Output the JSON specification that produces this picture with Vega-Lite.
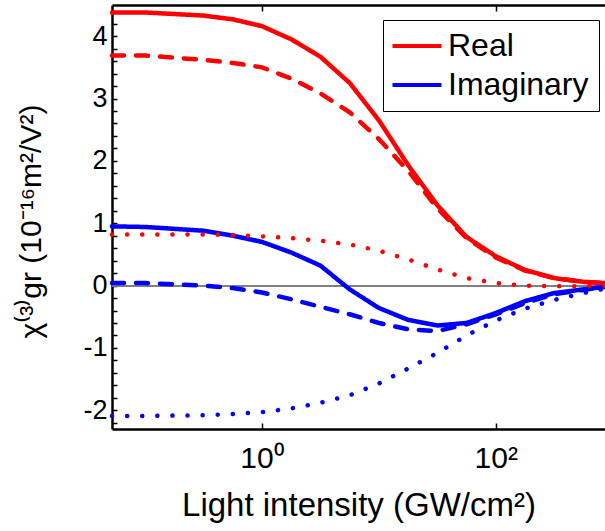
{
  "$schema": "https://vega.github.io/schema/vega-lite/v6.json",
  "width": 493,
  "height": 424,
  "autosize": {"type": "none"},
  "padding": {"left": 112, "top": 5, "right": 0, "bottom": 102},
  "config": {
    "font": "Liberation Sans",
    "view": {"stroke": null},
    "axis": {
      "grid": false,
      "domainColor": "black",
      "domainWidth": 2.5,
      "tickColor": "black",
      "tickWidth": 1.5,
      "labelColor": "black",
      "titleColor": "black",
      "titleFontWeight": "normal",
      "labelOverlap": false,
      "labelFlush": false,
      "labelBound": false
    }
  },
  "data": {
    "values": [
      {"I": 0.052, "v": 4.38, "part": "Real", "style": "solid"},
      {"I": 0.1, "v": 4.38, "part": "Real", "style": "solid"},
      {"I": 0.316, "v": 4.33, "part": "Real", "style": "solid"},
      {"I": 0.562, "v": 4.27, "part": "Real", "style": "solid"},
      {"I": 1, "v": 4.16, "part": "Real", "style": "solid"},
      {"I": 1.78, "v": 3.95, "part": "Real", "style": "solid"},
      {"I": 3.16, "v": 3.67, "part": "Real", "style": "solid"},
      {"I": 5.62, "v": 3.25, "part": "Real", "style": "solid"},
      {"I": 10, "v": 2.65, "part": "Real", "style": "solid"},
      {"I": 17.8, "v": 1.93, "part": "Real", "style": "solid"},
      {"I": 31.6, "v": 1.29, "part": "Real", "style": "solid"},
      {"I": 56.2, "v": 0.78, "part": "Real", "style": "solid"},
      {"I": 100, "v": 0.47, "part": "Real", "style": "solid"},
      {"I": 178, "v": 0.25, "part": "Real", "style": "solid"},
      {"I": 316, "v": 0.12, "part": "Real", "style": "solid"},
      {"I": 562, "v": 0.06, "part": "Real", "style": "solid"},
      {"I": 860, "v": 0.04, "part": "Real", "style": "solid"},

      {"I": 0.052, "v": 3.69, "part": "Real", "style": "dashed"},
      {"I": 0.1, "v": 3.69, "part": "Real", "style": "dashed"},
      {"I": 0.316, "v": 3.62, "part": "Real", "style": "dashed"},
      {"I": 0.562, "v": 3.57, "part": "Real", "style": "dashed"},
      {"I": 1, "v": 3.5, "part": "Real", "style": "dashed"},
      {"I": 1.78, "v": 3.32, "part": "Real", "style": "dashed"},
      {"I": 3.16, "v": 3.08, "part": "Real", "style": "dashed"},
      {"I": 5.62, "v": 2.78, "part": "Real", "style": "dashed"},
      {"I": 10, "v": 2.35, "part": "Real", "style": "dashed"},
      {"I": 17.8, "v": 1.84, "part": "Real", "style": "dashed"},
      {"I": 31.6, "v": 1.24, "part": "Real", "style": "dashed"},
      {"I": 56.2, "v": 0.76, "part": "Real", "style": "dashed"},
      {"I": 100, "v": 0.45, "part": "Real", "style": "dashed"},
      {"I": 178, "v": 0.24, "part": "Real", "style": "dashed"},
      {"I": 316, "v": 0.12, "part": "Real", "style": "dashed"},
      {"I": 562, "v": 0.06, "part": "Real", "style": "dashed"},
      {"I": 860, "v": 0.04, "part": "Real", "style": "dashed"},

      {"I": 0.052, "v": 0.82, "part": "Real", "style": "dotted"},
      {"I": 0.1, "v": 0.82, "part": "Real", "style": "dotted"},
      {"I": 0.316, "v": 0.82, "part": "Real", "style": "dotted"},
      {"I": 0.562, "v": 0.81, "part": "Real", "style": "dotted"},
      {"I": 1, "v": 0.79, "part": "Real", "style": "dotted"},
      {"I": 1.78, "v": 0.76, "part": "Real", "style": "dotted"},
      {"I": 3.16, "v": 0.72, "part": "Real", "style": "dotted"},
      {"I": 5.62, "v": 0.66, "part": "Real", "style": "dotted"},
      {"I": 10, "v": 0.56, "part": "Real", "style": "dotted"},
      {"I": 17.8, "v": 0.42, "part": "Real", "style": "dotted"},
      {"I": 31.6, "v": 0.26, "part": "Real", "style": "dotted"},
      {"I": 56.2, "v": 0.12, "part": "Real", "style": "dotted"},
      {"I": 100, "v": 0.04, "part": "Real", "style": "dotted"},
      {"I": 178, "v": 0.0, "part": "Real", "style": "dotted"},
      {"I": 316, "v": -0.01, "part": "Real", "style": "dotted"},
      {"I": 562, "v": -0.01, "part": "Real", "style": "dotted"},
      {"I": 860, "v": 0.0, "part": "Real", "style": "dotted"},

      {"I": 0.052, "v": 0.95, "part": "Imaginary", "style": "solid"},
      {"I": 0.1, "v": 0.94, "part": "Imaginary", "style": "solid"},
      {"I": 0.316, "v": 0.88, "part": "Imaginary", "style": "solid"},
      {"I": 0.562, "v": 0.8, "part": "Imaginary", "style": "solid"},
      {"I": 1, "v": 0.7, "part": "Imaginary", "style": "solid"},
      {"I": 1.78, "v": 0.53, "part": "Imaginary", "style": "solid"},
      {"I": 3.16, "v": 0.32, "part": "Imaginary", "style": "solid"},
      {"I": 5.62, "v": -0.06, "part": "Imaginary", "style": "solid"},
      {"I": 10, "v": -0.36, "part": "Imaginary", "style": "solid"},
      {"I": 17.8, "v": -0.55, "part": "Imaginary", "style": "solid"},
      {"I": 31.6, "v": -0.64, "part": "Imaginary", "style": "solid"},
      {"I": 56.2, "v": -0.6, "part": "Imaginary", "style": "solid"},
      {"I": 100, "v": -0.44, "part": "Imaginary", "style": "solid"},
      {"I": 178, "v": -0.25, "part": "Imaginary", "style": "solid"},
      {"I": 316, "v": -0.12, "part": "Imaginary", "style": "solid"},
      {"I": 562, "v": -0.06, "part": "Imaginary", "style": "solid"},
      {"I": 860, "v": -0.02, "part": "Imaginary", "style": "solid"},

      {"I": 0.052, "v": 0.04, "part": "Imaginary", "style": "dashed"},
      {"I": 0.1, "v": 0.04, "part": "Imaginary", "style": "dashed"},
      {"I": 0.316, "v": 0.0, "part": "Imaginary", "style": "dashed"},
      {"I": 0.562, "v": -0.04, "part": "Imaginary", "style": "dashed"},
      {"I": 1, "v": -0.11, "part": "Imaginary", "style": "dashed"},
      {"I": 1.78, "v": -0.22, "part": "Imaginary", "style": "dashed"},
      {"I": 3.16, "v": -0.34, "part": "Imaginary", "style": "dashed"},
      {"I": 5.62, "v": -0.46, "part": "Imaginary", "style": "dashed"},
      {"I": 10, "v": -0.6, "part": "Imaginary", "style": "dashed"},
      {"I": 17.8, "v": -0.7, "part": "Imaginary", "style": "dashed"},
      {"I": 31.6, "v": -0.73, "part": "Imaginary", "style": "dashed"},
      {"I": 56.2, "v": -0.62, "part": "Imaginary", "style": "dashed"},
      {"I": 100, "v": -0.46, "part": "Imaginary", "style": "dashed"},
      {"I": 178, "v": -0.28, "part": "Imaginary", "style": "dashed"},
      {"I": 316, "v": -0.14, "part": "Imaginary", "style": "dashed"},
      {"I": 562, "v": -0.07, "part": "Imaginary", "style": "dashed"},
      {"I": 860, "v": -0.02, "part": "Imaginary", "style": "dashed"},

      {"I": 0.052, "v": -2.09, "part": "Imaginary", "style": "dotted"},
      {"I": 0.1, "v": -2.09, "part": "Imaginary", "style": "dotted"},
      {"I": 0.316, "v": -2.08, "part": "Imaginary", "style": "dotted"},
      {"I": 0.562, "v": -2.06, "part": "Imaginary", "style": "dotted"},
      {"I": 1, "v": -2.03, "part": "Imaginary", "style": "dotted"},
      {"I": 1.78, "v": -1.97, "part": "Imaginary", "style": "dotted"},
      {"I": 3.16, "v": -1.88, "part": "Imaginary", "style": "dotted"},
      {"I": 5.62, "v": -1.76, "part": "Imaginary", "style": "dotted"},
      {"I": 10, "v": -1.57, "part": "Imaginary", "style": "dotted"},
      {"I": 17.8, "v": -1.33, "part": "Imaginary", "style": "dotted"},
      {"I": 31.6, "v": -1.08, "part": "Imaginary", "style": "dotted"},
      {"I": 56.2, "v": -0.8, "part": "Imaginary", "style": "dotted"},
      {"I": 100, "v": -0.56, "part": "Imaginary", "style": "dotted"},
      {"I": 178, "v": -0.37, "part": "Imaginary", "style": "dotted"},
      {"I": 316, "v": -0.23, "part": "Imaginary", "style": "dotted"},
      {"I": 562, "v": -0.12, "part": "Imaginary", "style": "dotted"},
      {"I": 860, "v": -0.05, "part": "Imaginary", "style": "dotted"}
    ]
  },
  "layer": [
    {
      "mark": {"type": "rule", "color": "#808080", "strokeWidth": 1},
      "encoding": {
        "y": {
          "datum": 0, "type": "quantitative",
          "scale": {"domain": [-2.3, 4.5], "nice": false, "zero": false},
          "axis": null
        }
      }
    },
    {
      "transform": [{"filter": "datum.part === 'Imaginary'"}],
      "mark": {"type": "line", "strokeCap": "round"},
      "encoding": {
        "x": {
          "field": "I", "type": "quantitative",
          "scale": {"type": "log", "domain": [0.052, 860]},
          "axis": {
            "orient": "bottom",
            "values": [1, 100],
            "labelExpr": "datum.value == 1 ? '10⁰' : '10²'",
            "labelFontSize": 30,
            "labelPadding": 20,
            "tickSize": -6,
            "title": "Light intensity (GW/cm²)",
            "titleFontSize": 33,
            "titlePadding": 16
          }
        },
        "y": {
          "field": "v", "type": "quantitative",
          "scale": {"domain": [-2.3, 4.5], "nice": false, "zero": false},
          "axis": {
            "values": [-2.2, -2, -1.8, -1.6, -1.4, -1.2, -1, -0.8, -0.6, -0.4, -0.2, 0, 0.2, 0.4, 0.6, 0.8, 1, 1.2, 1.4, 1.6, 1.8, 2, 2.2, 2.4, 2.6, 2.8, 3, 3.2, 3.4, 3.6, 3.8, 4, 4.2, 4.4],
            "labelExpr": "abs(datum.value - round(datum.value)) < 0.01 ? '' + round(datum.value) : ''",
            "labelFontSize": 27,
            "labelPadding": 10,
            "tickSize": -5,
            "title": "χ⁽³⁾gr (10⁻¹⁶m²/V²)",
            "titleFontSize": 30,
            "titlePadding": 36,
            "titleY": 216
          }
        },
        "color": {
          "field": "part", "type": "nominal",
          "scale": {"domain": ["Real", "Imaginary"], "range": ["#FF0000", "#0000FF"]},
          "legend": {
            "orient": "none",
            "legendX": 271,
            "legendY": 15,
            "title": null,
            "labelFontSize": 32,
            "labelColor": "black",
            "symbolType": "M-2,0H2",
            "symbolSize": 600,
            "symbolStrokeWidth": 4,
            "symbolOffset": 8,
            "strokeColor": "black",
            "fillColor": "white",
            "padding": 10,
            "rowPadding": 7,
            "labelOffset": 15
          }
        },
        "strokeDash": {
          "field": "style", "type": "nominal",
          "scale": {"domain": ["solid", "dashed", "dotted"], "range": [[1, 0], [12, 12], [0.1, 15]]},
          "legend": null
        },
        "strokeWidth": {
          "field": "style", "type": "nominal",
          "scale": {"domain": ["solid", "dashed", "dotted"], "range": [4.5, 4.5, 5.5]},
          "legend": null
        }
      }
    },
    {
      "transform": [{"filter": "datum.part === 'Real'"}],
      "mark": {"type": "line", "strokeCap": "round"},
      "encoding": {
        "x": {
          "field": "I", "type": "quantitative",
          "scale": {"type": "log", "domain": [0.052, 860]},
          "axis": {
            "orient": "top",
            "values": [1, 100],
            "labels": false,
            "tickSize": -6,
            "title": null
          }
        },
        "y": {
          "field": "v", "type": "quantitative",
          "scale": {"domain": [-2.3, 4.5], "nice": false, "zero": false},
          "axis": null
        },
        "color": {
          "field": "part", "type": "nominal",
          "scale": {"domain": ["Real", "Imaginary"], "range": ["#FF0000", "#0000FF"]}
        },
        "strokeDash": {
          "field": "style", "type": "nominal",
          "scale": {"domain": ["solid", "dashed", "dotted"], "range": [[1, 0], [12, 12], [0.1, 15]]},
          "legend": null
        },
        "strokeWidth": {
          "field": "style", "type": "nominal",
          "scale": {"domain": ["solid", "dashed", "dotted"], "range": [4.5, 4.5, 5.5]},
          "legend": null
        }
      }
    }
  ],
  "resolve": {"axis": {"x": "independent", "y": "independent"}}
}
